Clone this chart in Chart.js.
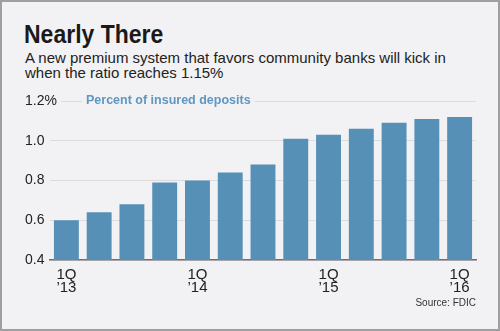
<!DOCTYPE html>
<html>
<head>
<meta charset="utf-8">
<script src="https://cdn.jsdelivr.net/npm/chart.js@4.4.1/dist/chart.umd.min.js"></script>
<style>
  html, body { margin: 0; padding: 0; }
  body { width: 500px; height: 331px; overflow: hidden; background: #f2f2f4; font-family: 'Liberation Sans', Arial, sans-serif; }
  #wrap { position: relative; width: 500px; height: 331px; }
  #wrap canvas { position: absolute; left: 0; top: 0; }
  .title { position: absolute; left: 24px; top: 22px; font-weight: bold; font-size: 25px; line-height: 24px; color: #1a1a1a; white-space: nowrap; transform: scaleX(0.92); transform-origin: 0 0; }
  .sub { position: absolute; left: 25px; top: 51px; font-size: 15px; line-height: 14.5px; color: #222; white-space: nowrap; }
  .source { position: absolute; right: 24px; top: 298px; font-size: 10px; line-height: 10px; color: #333; }
  .frame { position: absolute; left: 0; top: 0; width: 500px; height: 331px; box-sizing: border-box; border: 2px solid #9f9fa1; pointer-events: none; }
</style>
</head>
<body>
<div id="wrap">
  <div class="title">Nearly There</div>
  <div class="sub">A new premium system that favors community banks will kick in<br>when the ratio reaches 1.15%</div>
  <canvas id="chart" width="500" height="331"></canvas>
  <div class="source">Source: FDIC</div>
  <div class="frame"></div>
</div>
<script>
// quarters, 1Q 2013 .. 1Q 2016
const quarters = ['1Q ’13', '2Q ’13', '3Q ’13', '4Q ’13',
                  '1Q ’14', '2Q ’14', '3Q ’14', '4Q ’14',
                  '1Q ’15', '2Q ’15', '3Q ’15', '4Q ’15',
                  '1Q ’16'];
// reserve ratio, percent of insured deposits
const ratio = [0.60, 0.64, 0.68, 0.79, 0.80, 0.84, 0.88, 1.01, 1.03, 1.06, 1.09, 1.11, 1.12];
const yTicks = [0.4, 0.6, 0.8, 1.0, 1.2];
const seriesName = 'Percent of insured deposits';

const BG = '#f2f2f4';

// label sits on the top gridline, like an inline legend
const seriesLabel = {
    id: 'seriesLabel',
    beforeDatasetsDraw(chart) {
        const ctx = chart.ctx;
        const y = chart.scales.y.getPixelForValue(yTicks[yTicks.length - 1]);
        const left = chart.chartArea.left;
        ctx.save();
        ctx.font = 'bold 12.5px "Liberation Sans", Arial, sans-serif';
        const w = ctx.measureText(chart.data.datasets[0].label).width;
        ctx.fillStyle = BG;
        ctx.fillRect(left, y - 2, 11, 4);
        ctx.fillRect(left + 32, y - 2, w + 8, 4);
        ctx.fillStyle = '#5e97c1';
        ctx.textBaseline = 'middle';
        ctx.fillText(chart.data.datasets[0].label, left + 36, y);
        ctx.restore();
    }
};

new Chart(document.getElementById('chart'), {
    type: 'bar',
    data: {
        labels: quarters,
        datasets: [{
            label: seriesName,
            data: ratio,
            backgroundColor: '#5790b6',
            borderWidth: 0,
            categoryPercentage: 1,
            barPercentage: 0.76
        }]
    },
    options: {
        responsive: false,
        animation: false,
        layout: { padding: { left: 25, top: 101, right: 24, bottom: 31 } },
        plugins: {
            legend: { display: false },
            tooltip: { enabled: false }
        },
        scales: {
            x: {
                grid: { display: false, drawTicks: false },
                border: { display: true, color: '#707072', width: 1.5 },
                afterFit: s => { s.height = 40; },
                ticks: {
                    autoSkip: false,
                    maxRotation: 0,
                    padding: 8,
                    color: '#222',
                    font: { family: "'Liberation Sans', Arial, sans-serif", size: 15, lineHeight: '13.5px' },
                    callback: (v, i) => quarters[i].startsWith('1Q') ? quarters[i].split(' ') : ''
                }
            },
            y: {
                min: 0.4,
                max: 1.2,
                afterFit: s => { s.width = 25; },
                afterBuildTicks: s => { s.ticks = yTicks.map(v => ({ value: v })); },
                grid: { color: '#dcdcdf', lineWidth: 1, drawTicks: false },
                border: { display: false },
                ticks: {
                    z: 1,
                    // mirrored so the labels are not clipped to the narrow axis box
                    mirror: true,
                    crossAlign: 'near',
                    padding: -25,
                    color: '#222',
                    font: { family: "'Liberation Sans', Arial, sans-serif", size: 14 },
                    callback: v => v === 1.2 ? '1.2%' : v.toFixed(1)
                }
            }
        }
    },
    plugins: [seriesLabel]
});
</script>
</body>
</html>
